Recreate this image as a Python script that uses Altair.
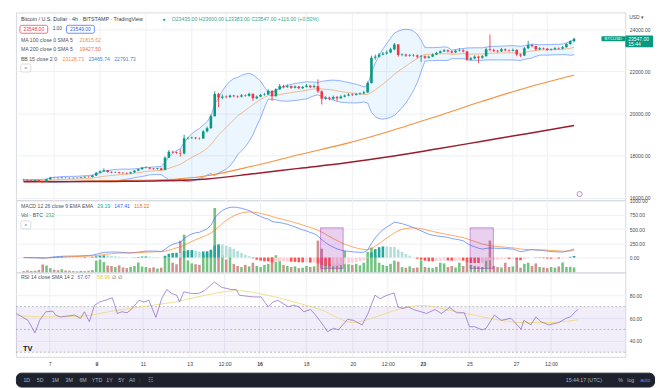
import altair as alt
import pandas as pd

FONT = "Liberation Sans"
GRAY = "#50535e"

# ---------------- data ----------------
first_open = 16850
closes = [
    16840, 16825, 16800, 16830, 16780, 16760, 16870, 16950, 16945, 16930,
    16950, 16940, 16925, 16940, 16935, 16960, 16990, 16980, 17050, 17180,
    17250, 17300, 17220, 17200, 17210, 17180, 17170, 17150, 17200, 17280,
    17350, 17420, 17430, 17380, 17360, 17390, 17320, 17900, 18180, 18150,
    18120, 18100, 18820, 18830, 18850, 18820, 18810, 19150, 19300, 19870,
    20930, 20750, 20800, 20780, 20850, 20820, 20800, 20860, 20840, 20930,
    20720, 20800, 20880, 20900, 21080, 20820, 21150, 21300, 21250, 21300,
    21220, 21280, 21200, 21260, 21320, 21250, 21300, 21050, 20700, 20750,
    20700, 20780, 20720, 20800, 20850, 20900, 20880, 20920, 20950, 21000,
    21450, 22650, 22700, 22800, 22850, 22900, 23050, 23280, 22780, 22800,
    22750, 22780, 22760, 22700, 22720, 22650, 22700, 22800, 22880, 22950,
    23000, 22950, 22900, 22980, 23000, 22950, 22560, 22620, 22700, 22650,
    22720, 23050, 23020, 22980, 22950, 23050, 23000, 22980, 23020, 22800,
    22750, 23100, 23250, 23200, 23050, 23100, 23080, 23020, 23050, 23100,
    23080, 23150, 23300, 23435, 23547]
highs = [
    16890, 16870, 16850, 16860, 16850, 16800, 16900, 16990, 16980, 16970,
    16975, 16970, 16960, 16960, 16965, 16990, 17020, 17010, 17080, 17220,
    17300, 17390, 17320, 17250, 17240, 17230, 17210, 17200, 17230, 17300,
    17380, 17460, 17480, 17450, 17410, 17420, 17420, 17960, 18260, 18220,
    18190, 18300, 18990, 18890, 18900, 18880, 18860, 19200, 19380, 19950,
    21050, 20980, 20900, 20860, 20900, 20880, 20860, 20920, 20900, 20990,
    20960, 20850, 20930, 20980, 21150, 21100, 21200, 21400, 21360, 21380,
    21330, 21330, 21300, 21310, 21400, 21360, 21380, 21620, 21100, 20820,
    20800, 20850, 20830, 20860, 20900, 20960, 20950, 20980, 21000, 21080,
    21520, 22750, 22800, 22880, 22920, 22990, 23120, 23350, 23300, 22860,
    22840, 22830, 22820, 22800, 22780, 22760, 22750, 22850, 22930, 23000,
    23060, 23040, 22990, 23030, 23100, 23050, 22980, 22680, 22760, 22740,
    22780, 23120, 23750, 23080, 23020, 23110, 23090, 23040, 23080, 23060,
    22840, 23160, 23450, 23300, 23220, 23150, 23130, 23110, 23090, 23150,
    23140, 23200, 23340, 23480, 23600]
lows = [
    16800, 16790, 16760, 16780, 16740, 16690, 16740, 16850, 16920, 16900,
    16910, 16920, 16900, 16910, 16910, 16920, 16940, 16950, 16960, 17030,
    17150, 17220, 17180, 17160, 17170, 17140, 17120, 17110, 17130, 17180,
    17260, 17330, 17390, 17340, 17320, 17330, 17290, 17300, 17880, 18100,
    18080, 17950, 18050, 18760, 18790, 18770, 18760, 18790, 19100, 19270,
    19850, 20300, 20680, 20720, 20740, 20770, 20740, 20760, 20790, 20800,
    20600, 20680, 20770, 20840, 20880, 20600, 20800, 21120, 21200, 21220,
    21170, 21190, 21150, 21170, 21230, 21200, 21220, 20980, 20420, 20650,
    20620, 20650, 20600, 20690, 20760, 20820, 20830, 20850, 20880, 20920,
    20980, 21420, 22550, 22650, 22760, 22800, 22860, 23000, 22700, 22720,
    22690, 22700, 22700, 22620, 22450, 22580, 22610, 22680, 22770, 22850,
    22920, 22900, 22850, 22870, 22940, 22900, 22500, 22520, 22580, 22400,
    22600, 22700, 22960, 22920, 22890, 22920, 22950, 22930, 22950, 22720,
    22680, 22730, 23060, 23150, 22980, 23010, 23030, 22980, 22990, 23020,
    23030, 23050, 23120, 23270, 23383]
volumes = [
    60, 90, 70, 80, 110, 370, 320, 200, 120, 100,
    150, 90, 80, 60, 50, 70, 60, 80, 110, 550,
    600, 480, 320, 300, 250, 330, 230, 200, 260, 300,
    460, 280, 250, 200, 240, 180, 220, 740, 680, 450,
    380, 1470, 1750, 560, 420, 380, 350, 800, 900, 1000,
    2990, 1240, 800, 600, 1100, 400, 300, 250, 350, 280,
    450, 300, 250, 350, 400, 700, 800, 650, 350, 300,
    250, 280, 200, 220, 300, 250, 280, 1480, 1100, 600,
    400, 350, 450, 380, 1000, 380, 350, 400, 330, 450,
    950, 1150, 800, 450, 350, 300, 400, 550, 500, 250,
    220, 280, 200, 230, 560, 250, 220, 200, 260, 450,
    420, 250, 300, 230, 450, 300, 520, 350, 300, 280,
    250, 600, 1480, 300, 250, 230, 450, 250, 280, 650,
    220, 400, 450, 300, 420, 250, 230, 200, 250, 220,
    280, 460, 250, 260, 232]

ma_idx = [0, 12, 24, 36, 48, 60, 72, 84, 96, 108, 120, 132, 144]
ma100 = [16760, 16780, 16810, 16850, 17040, 17500, 18040, 18555, 19170, 19860, 20580, 21250, 21815.62]
ma200 = [16750, 16760, 16770, 16800, 16890, 17130, 17390, 17640, 17950, 18310, 18680, 19050, 19427.50]

rsi_idx = [-0.6, 1.1, 2.4, 4.2, 5.4, 7.0, 8.8, 9.5, 10.8, 13.1,
           14.4, 15.9, 16.9, 18.2, 19.5, 20.8, 22.3, 24.1, 25.4, 26.6,
           27.9, 29.2, 31.0, 32.2, 33.5, 35.3, 36.8, 38.1, 39.4, 40.7,
           41.4, 42.5, 44.5, 46.3, 47.8, 50.4, 52.2, 54.7, 56.0, 56.8,
           59.1, 60.6, 62.4, 64.2, 65.4, 66.7, 68.0, 69.3, 70.8, 72.1,
           73.4, 75.1, 76.4, 77.7, 79.5, 81.0, 82.3, 84.6, 86.1, 88.4,
           89.9, 91.7, 93.0, 94.8, 96.6, 97.6, 98.9, 100.2, 102.0, 105.0,
           107.1, 108.8, 110.9, 112.7, 114.7, 116.0, 117.3, 119.3, 120.3, 122.4,
           124.2, 126.7, 127.5, 129.3, 130.0, 131.8, 133.1, 134.4, 136.4, 139.0,
           140.8, 142.0, 143.2, 144.0]
rsi_val = [64, 60.6, 58, 47, 58, 65.5, 66, 62.6, 61, 62,
           62.6, 59.7, 65.5, 56.8, 71, 74, 75.6, 77.7, 64, 65.5,
           64.6, 68.4, 75.6, 74, 75.6, 60.6, 77, 85, 81.5, 80,
           74, 83, 81.5, 81.5, 84, 91.6, 87, 85, 85, 80,
           79, 78.5, 78.5, 69.8, 74, 75.6, 72.8, 69.8, 71.3, 69.8,
           65.5, 67.5, 62.6, 56.8, 48, 51, 49.6, 58.8, 58, 54,
           64, 80, 77, 80, 82, 69.8, 68.4, 69.8, 67, 64,
           67.5, 64, 69.3, 64.6, 64.6, 52.4, 52.4, 49.6, 51, 62.6,
           58, 59.7, 56.8, 50.2, 58, 54, 61, 56.8, 54, 56,
           59.7, 61, 65.5, 67.6]
rsi_ma_idx = [-0.6, 8, 16, 24, 32, 40, 48, 56, 64, 72, 78, 86, 92, 98, 104, 112, 118, 124, 130, 136, 144]
rsi_ma_val = [62, 61, 61.5, 66, 70, 74, 80, 84, 80, 73, 67, 56, 61, 68, 71, 66, 62, 58, 56, 56, 58.5]
rsi_levels = [70, 50, 30]

box_x0 = [77.7, 116.8]
box_x1 = [83.6, 122.9]
box_top = [524, 524]
box_bot = [-192, -192]

price_ticks = [16000, 17000, 18000, 19000, 20000, 21000, 22000, 23000, 24000]
macd_ticks = [0, 250, 500, 750, 1000]
rsi_ticks = [40, 60, 80]
time_tick_idx = [8, 20, 32, 44, 53, 62, 74, 86, 95, 104, 116, 128, 137]
time_tick_lbl = ["7", "9", "11", "13", "12:00", "16", "18", "20", "12:00", "23", "25", "27", "12:00"]
bold_ticks = [20, 62, 104]
last_price = 23547

# ---------------- derived table ----------------
n = len(closes)
opens = [first_open] + closes[:-1]
df = pd.DataFrame({"i": list(range(n)), "open": opens, "high": highs, "low": lows,
                   "close": closes, "volume": volumes})
up = [c >= o for o, c in zip(opens, closes)]
df["ccol"] = ["#089981" if u else "#f23645" for u in up]
df["vcol"] = ["#66bd72" if u else "#c98683" for u in up]
s = df["close"]
mid = s.rolling(15, min_periods=1).mean()
sd = s.rolling(15, min_periods=1).std(ddof=0)
df["bb_mid"] = mid
df["bb_up"] = mid + 2 * sd
df["bb_lo"] = mid - 2 * sd
ema12 = s.ewm(span=12, adjust=False).mean()
ema26 = s.ewm(span=26, adjust=False).mean()
macd = ema12 - ema26
sig = macd.ewm(span=9, adjust=False).mean()
hist = macd - sig
df["macd"] = macd
df["signal"] = sig
df["hist"] = hist
df["zero"] = 0.0
prev = hist.shift(1).fillna(0)
hc = []
for h, p in zip(hist, prev):
    if h >= 0:
        hc.append("#26a69a" if h > p else "#b2dfdb")
    else:
        hc.append("#ff5252" if h < p else "#ffcdd2")
df["hcol"] = hc

# ---------------- layout constants ----------------
W = 614
H1, H2, H3 = 189, 73, 85
XDOM = [-0.7, 156.1]
xs = alt.Scale(domain=XDOM, nice=False, zero=False)
Xn = alt.X("i:Q", scale=xs, axis=None)

def rax(vals):
    return alt.Axis(orient="right", values=vals, format=".2f", labelFontSize=5,
                    labelColor="#4a4d57", labelPadding=4, domain=False, ticks=False,
                    grid=True, gridColor="#eef0f5", labelFlush=False, labelOverlap=False,
                    title=None, labelFont=FONT)

def txt(s_, x, y, color=GRAY, size=5.3, weight="normal", align="left"):
    return alt.Chart(pd.DataFrame({"t": [s_]})).mark_text(
        align=align, baseline="middle", fontSize=size, color=color,
        fontWeight=weight, font=FONT).encode(x=alt.value(x), y=alt.value(y), text="t:N")

def frame(x0, x1, y0, y1, stroke, fill="#ffffff"):
    return alt.Chart(pd.DataFrame({"k": [0]})).mark_rect(
        fill=fill, stroke=stroke, strokeWidth=0.7, cornerRadius=1.5).encode(
        x=alt.value(x0), x2=alt.value(x1), y=alt.value(y0), y2=alt.value(y1))

base = alt.Chart(df)
vgrid = alt.Chart(pd.DataFrame({"i": time_tick_idx})).mark_rule(color="#eef0f5", strokeWidth=1)

# ---------------- price panel ----------------
ys_price = alt.Scale(domain=[15887, 24802], nice=False, zero=False)
price_axis = rax(price_ticks)
def Yp(f):
    return alt.Y(f, scale=ys_price, axis=price_axis)

ma_df = pd.DataFrame({"i": ma_idx, "ma100": ma100, "ma200": ma200})
one = pd.DataFrame({"k": [0]})
price_layers = [
    vgrid.encode(x=Xn),
    base.mark_area(color="#2196f3", opacity=0.09).encode(x=Xn, y=Yp("bb_lo:Q"), y2="bb_up:Q"),
    base.mark_line(color="#2962ff", strokeWidth=0.9, opacity=0.55).encode(x=Xn, y=Yp("bb_up:Q")),
    base.mark_line(color="#2962ff", strokeWidth=0.9, opacity=0.55).encode(x=Xn, y=Yp("bb_lo:Q")),
    base.mark_line(color="#ff6d00", strokeWidth=0.8, opacity=0.55).encode(x=Xn, y=Yp("bb_mid:Q")),
    alt.Chart(ma_df).mark_line(color="#f5903d", strokeWidth=1.1, interpolate="monotone").encode(x=Xn, y=Yp("ma100:Q")),
    alt.Chart(ma_df).mark_line(color="#9b1c2c", strokeWidth=1.5, interpolate="monotone").encode(x=Xn, y=Yp("ma200:Q")),
    base.mark_rule(strokeWidth=0.9).encode(x=Xn, y=Yp("low:Q"), y2="high:Q", color=alt.Color("ccol:N", scale=None)),
    base.mark_bar(size=2.6).encode(x=Xn, y=Yp("open:Q"), y2="close:Q", color=alt.Color("ccol:N", scale=None)),
    # last price tags
    alt.Chart(one).mark_rect(fill="#089981", cornerRadius=1).encode(
        x=alt.value(590), x2=alt.value(614), y=alt.datum(last_price + 118), y2=alt.datum(last_price - 118)),
    alt.Chart(one).mark_text(fontSize=4.3, color="white", font=FONT, baseline="middle").encode(
        x=alt.value(602), y=alt.datum(last_price - 15), text=alt.value("BTCUSD")),
    alt.Chart(one).mark_rect(fill="#089981", cornerRadius=1).encode(
        x=alt.value(614), x2=alt.value(642), y=alt.datum(last_price + 156), y2=alt.datum(last_price - 396)),
    alt.Chart(one).mark_text(fontSize=5, color="white", font=FONT, align="left", baseline="middle").encode(
        x=alt.value(617), y=alt.datum(last_price), text=alt.value("23547.00")),
    alt.Chart(one).mark_text(fontSize=5, color="white", font=FONT, align="left", baseline="middle").encode(
        x=alt.value(617), y=alt.datum(last_price - 265), text=alt.value("15:44")),
    alt.Chart(one).mark_point(shape="circle", size=26, filled=False, color="#ab47bc", strokeWidth=0.9).encode(
        x=alt.value(568), y=alt.value(183)),
    txt("USD \u25be", 618, 5, "#4a4d57", 5),
    # legend
    txt("Bitcoin / U.S. Dollar \u00b7 4h \u00b7 BITSTAMP \u00b7 TradingView", 5, 7, "#3b3e48", 5.4),
    txt("\u25cf", 148, 7, "#089981", 5),
    txt("O23435.00  H23600.00  L23383.00  C23547.00  +116.00 (+0.50%)", 157, 7, "#35a88f", 5.2),
    frame(4, 32, 13, 21, "#f23645"),
    txt("23548.00", 18, 17, "#f23645", 5, align="center"),
    txt("1.00", 37, 17, GRAY, 4.8),
    frame(51, 79, 13, 21, "#2962ff"),
    txt("23549.00", 65, 17, "#2962ff", 5, align="center"),
    txt("MA 100 close 0 SMA 5", 5, 27.5, GRAY, 5.2),
    txt("21815.62", 64, 27.5, "#f5903d", 5.2),
    txt("MA 200 close 0 SMA 5", 5, 37, GRAY, 5.2),
    txt("19427.50", 64, 37, "#e0734f", 5.2),
    txt("BB 15 close 2 0", 5, 46.5, GRAY, 5.2),
    txt("23128.73", 47, 46.5, "#ff8a3d", 5.2),
    txt("23465.74", 73, 46.5, "#4a7fe0", 5.2),
    txt("22791.73", 99, 46.5, "#4a7fe0", 5.2),
    frame(5, 15, 52, 60, "#c9ccd4"),
    txt("^", 10, 57, GRAY, 5.5, align="center"),
]
price = alt.layer(*price_layers).properties(width=W, height=H1)

# ---------------- MACD + volume panel ----------------
ys_macd = alt.Scale(domain=[-262, 1014], nice=False, zero=False)
macd_axis = rax(macd_ticks)
def Ym(f):
    return alt.Y(f, scale=ys_macd, axis=macd_axis)

box_df = pd.DataFrame({"x0": box_x0, "x1": box_x1, "top": box_top, "bot": box_bot})
vol_layer = alt.layer(
    vgrid.encode(x=Xn),
    base.mark_bar(size=2.6, opacity=0.9).encode(
        x=Xn, y=alt.Y("volume:Q", scale=alt.Scale(domain=[0, 3360], nice=False), axis=None),
        color=alt.Color("vcol:N", scale=None)),
)
macd_core = alt.layer(
    base.mark_bar(size=2.6).encode(x=Xn, y=Ym("hist:Q"), y2="zero:Q", color=alt.Color("hcol:N", scale=None)),
    base.mark_line(color="#2962ff", strokeWidth=1, opacity=0.6).encode(x=Xn, y=Ym("macd:Q")),
    base.mark_line(color="#ff6d00", strokeWidth=1, opacity=0.6).encode(x=Xn, y=Ym("signal:Q")),
    alt.Chart(box_df).mark_rect(fill="#9c27b0", fillOpacity=0.22, stroke="#9c27b0",
                                strokeOpacity=0.45, strokeWidth=1).encode(
        x=alt.X("x0:Q", scale=xs, axis=None), x2="x1:Q", y=Ym("top:Q"), y2="bot:Q"),
    txt("MACD 12 26 close 9 EMA EMA", 5, 6, GRAY, 5.2),
    txt("29.19", 82, 6, "#26a69a", 5.2),
    txt("147.41", 99, 6, "#2962ff", 5.2),
    txt("118.22", 119, 6, "#ff6d00", 5.2),
    txt("Vol \u00b7 BTC", 5, 15, GRAY, 5.2),
    txt("232", 30, 15, "#4caf50", 5.2),
    frame(5, 15, 21, 29, "#c9ccd4"),
    txt("^", 10, 26, GRAY, 5.5, align="center"),
)
macd_panel = alt.layer(vol_layer, macd_core).resolve_scale(y="independent").properties(width=W, height=H2)

# ---------------- RSI panel ----------------
label_expr = "".join(f"datum.value=={v}?'{l}':" for v, l in zip(time_tick_idx, time_tick_lbl)) + "''"
bold_test = "||".join(f"datum.value=={v}" for v in bold_ticks)
time_axis = alt.Axis(values=time_tick_idx, labelExpr=label_expr, labelFontSize=5.2,
                     labelColor="#3b3e48", domain=False, ticks=False, grid=False,
                     labelPadding=5, title=None, labelFont=FONT, labelFlush=False,
                     labelOverlap=False,
                     labelFontWeight={"condition": {"test": bold_test, "value": "bold"}, "value": "normal"})
Xr = alt.X("i:Q", scale=xs, axis=time_axis)
ys_rsi = alt.Scale(domain=[26, 100], nice=False, zero=False)
rsi_axis = rax(rsi_ticks)
def Yr(f):
    return alt.Y(f, scale=ys_rsi, axis=rsi_axis)

rsi_df = pd.DataFrame({"i": rsi_idx, "v": rsi_val})
rsi_ma_df = pd.DataFrame({"i": rsi_ma_idx, "v": rsi_ma_val})
rsi_panel = alt.layer(
    vgrid.encode(x=Xr),
    alt.Chart(pd.DataFrame({"hi": [70], "lo": [30]})).mark_rect(color="#7e57c2", opacity=0.1).encode(
        y=Yr("hi:Q"), y2="lo:Q"),
    alt.Chart(pd.DataFrame({"v": rsi_levels})).mark_rule(strokeDash=[2, 2], color="#9598a1",
                                                         strokeWidth=0.8, opacity=0.8).encode(y=Yr("v:Q")),
    alt.Chart(rsi_ma_df).mark_line(color="#f0d97a", strokeWidth=1, opacity=0.85,
                                   interpolate="monotone").encode(x=Xr, y=Yr("v:Q")),
    alt.Chart(rsi_df).mark_line(color="#7e57c2", strokeWidth=1, opacity=0.65).encode(x=Xr, y=Yr("v:Q")),
    txt("RSI 14 close SMA 14 2", 5, 4.5, GRAY, 5.2),
    txt("67.67", 62, 4.5, "#7e57c2", 5.2),
    txt("58.96", 82, 4.5, "#e8c640", 5.2),
    txt("\u2205  \u2205", 97, 4.5, GRAY, 5.2),
    txt("TV", 7, 77, "#131722", 7.5, "bold"),
).properties(width=W, height=H3)

# ---------------- spacer + bottom toolbar ----------------
spacer = alt.Chart(one).mark_text().encode(text=alt.value("")).properties(
    width=W, height=16, view=alt.ViewBackground(fill="transparent", stroke="transparent"))

TBC = "#b2b5be"
tb_items = [("1D", 7.5), ("5D", 21), ("1M", 36), ("3M", 50), ("6M", 64), ("YTD", 76.5),
            ("1Y", 91), ("5Y", 103), ("All", 114)]
tb_layers = [txt(t, x, 7, TBC, 5.3) for t, x in tb_items]
tb_layers += [
    txt("|", 124, 7, "#434651", 6),
    txt("\u2637", 133, 7, TBC, 6),
    txt("15:44:17 (UTC)", 554, 7, TBC, 5.3),
    txt("%", 607, 7, TBC, 5.3),
    txt("log", 616, 7, TBC, 5.3),
    txt("auto", 629, 7, "#5b8cff", 5.3),
]
toolbar = alt.layer(*tb_layers).properties(
    width=643, height=14,
    view=alt.ViewBackground(fill="#1e222d", stroke="#1e222d", cornerRadius=5))

chart = alt.vconcat(
    price, macd_panel, rsi_panel, spacer, toolbar, spacing=0, bounds="flush",
).properties(
    padding={"left": 5, "top": 2, "right": 5, "bottom": 0},
    background="white",
).configure(font=FONT).configure_view(stroke="#d6d9e0", strokeWidth=1)

chart.save("out.html", embed_options={"renderer": "svg", "actions": False})
